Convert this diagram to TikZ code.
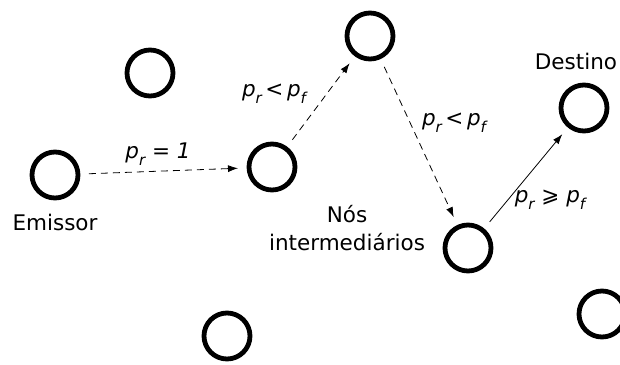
\documentclass[tikz,border=0pt]{standalone}
\usepackage{fontspec}
\setmainfont{DejaVu Sans}
\usetikzlibrary{arrows.meta, positioning}
\newcommand{\lowsub}[1]{\raisebox{-0.32em}{\fontsize{15}{15}\selectfont #1}}

\begin{document}
\begin{tikzpicture}[x=1pt, y=-1pt,
  peer/.style={draw, circle, line width=4.8pt, minimum size=46pt, inner sep=0pt, outer sep=11pt},
  hop/.style={-{Latex[length=10pt, width=7pt]}, line width=0.8pt},
  hopdash/.style={hop, dash pattern=on 7pt off 5pt},
  prob/.style={font=\fontsize{21.5}{24}\selectfont\itshape, inner sep=0pt},
  tag/.style={font=\fontsize{21.5}{28}\selectfont, align=center, inner sep=0pt}
]
\useasboundingbox (0,0) rectangle (620,364);

% Nodes
\node[peer] (src) at (55,175) {};
\node[peer] (mid) at (272,167) {};
\node[peer] (top) at (370,36) {};
\node[peer] (low) at (468,248) {};
\node[peer] (dst) at (584,108) {};
\node[peer] (idle1) at (150,73) {};
\node[peer] (idle2) at (227,336) {};
\node[peer] (idle3) at (602,314) {};

% Labels
\node[tag] (srclbl) at (55,222) {Emissor};
\node[tag] (dstlbl) at (576,61) {Destino};
\node[tag] (midlbl) at (347,228) {Nós\\intermediários};

% Hops
\draw[hopdash] (src) -- (mid);
\draw[hopdash] (mid) -- (top);
\draw[hopdash] (top) -- (low);
\draw[hop] (low) -- (dst);

\node[prob] (p1) at (158,154) {p\lowsub{r} = 1};
\node[prob] (p2) at (274,94) {p\lowsub{r}\,<\,p\lowsub{f}};
\node[prob] (p3) at (454,123) {p\lowsub{r}\,<\,p\lowsub{f}};
\node[prob] (p4) at (550,200) {p\lowsub{r} ⩾ p\lowsub{f}};
\end{tikzpicture}
\end{document}
